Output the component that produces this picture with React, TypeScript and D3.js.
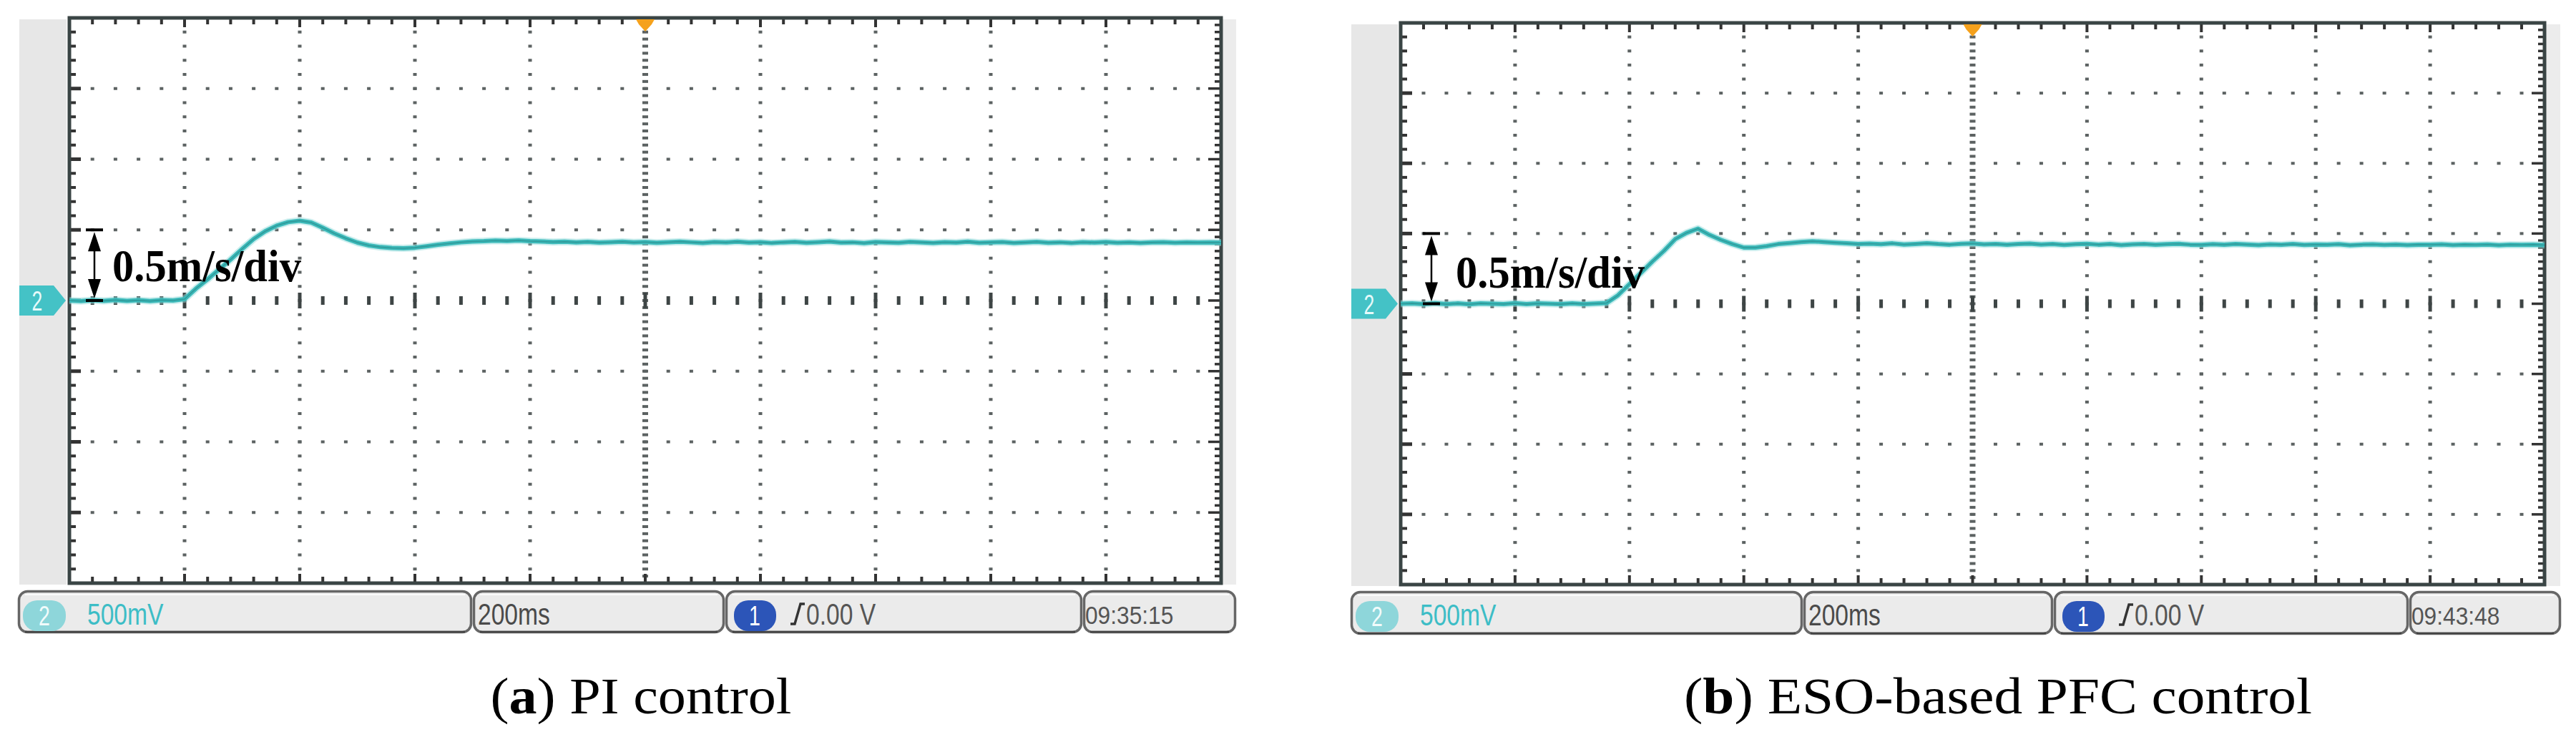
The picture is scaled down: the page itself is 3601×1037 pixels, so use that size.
import React from "react";
import * as d3 from "d3";

const W = 3601;
const H = 1037;

// ---- data (time in ms, speed in m/s; 200 ms/div, 0.5 m/s/div) ----
const timeWindowMs = [0, 2000];
const speedWindow = [-2, 2];
const sampleStepMs = 20;

const piSpeed = [
  0.0, -0.004, 0.003, -0.002, 0.004, -0.003, 0.002, -0.004, 0.003, 0.0,
  0.01, 0.085, 0.15, 0.22, 0.29, 0.365, 0.435, 0.49, 0.53, 0.555,
  0.565, 0.552, 0.515, 0.475, 0.44, 0.41, 0.39, 0.378, 0.372, 0.37,
  0.374, 0.384, 0.395, 0.404, 0.412, 0.418, 0.42, 0.424, 0.421, 0.425,
  0.42,
  0.418, 0.414, 0.416, 0.412, 0.415, 0.41, 0.413, 0.416, 0.411, 0.414,
  0.409, 0.413, 0.417, 0.412, 0.408, 0.414, 0.411, 0.416, 0.41, 0.413,
  0.407, 0.412, 0.415, 0.409, 0.413, 0.418, 0.41, 0.412, 0.406, 0.414,
  0.411, 0.409, 0.415, 0.412, 0.408, 0.413, 0.41, 0.416, 0.409, 0.412,
  0.414, 0.408, 0.411, 0.415, 0.409, 0.412, 0.407, 0.413, 0.41, 0.414,
  0.409, 0.412, 0.408, 0.411, 0.413, 0.409, 0.412, 0.41, 0.411, 0.41,
];

const esoSpeed = [
  0.0, 0.003, -0.002, 0.004, -0.003, 0.002, -0.004, 0.003, 0.0, -0.002,
  0.004, -0.003, 0.002, 0.0, -0.003, 0.003, -0.002, 0.001,
  0.005, 0.06, 0.14, 0.22, 0.3, 0.375, 0.46, 0.505, 0.535, 0.49,
  0.455, 0.425, 0.4, 0.4, 0.41, 0.425, 0.432, 0.44, 0.445, 0.44,
  0.435, 0.43, 0.425,
  0.428, 0.424, 0.43, 0.422, 0.426, 0.431, 0.425, 0.421, 0.427, 0.429,
  0.423, 0.426, 0.42, 0.425, 0.428, 0.422, 0.426, 0.419, 0.424, 0.427,
  0.421, 0.425, 0.418, 0.423, 0.426, 0.42, 0.424, 0.427, 0.421, 0.419,
  0.424, 0.42, 0.426, 0.422, 0.418, 0.423, 0.421, 0.425, 0.419, 0.422,
  0.42, 0.424, 0.417, 0.421, 0.423, 0.419, 0.422, 0.418, 0.421, 0.42,
  0.423, 0.418, 0.421, 0.419, 0.422, 0.417, 0.42, 0.419, 0.421, 0.418,
];

const channelLabel = "2";
const triggerChannelLabel = "1";
const voltsPerDiv = "500mV";
const timePerDiv = "200ms";
const triggerLevel = "0.00 V";
const timestamps = ["09:35:15", "09:43:48"];
const captionLetters = ["a", "b"];
const captionTexts = [" PI control", " ESO-based PFC control"];
const scaleNote = "0.5m/s/div";
const scaleNoteSpan = [0, 0.5];

// ---- layout ----
const layouts = [
  {
    left: 97, right: 1707, top: 25, bottom: 815, stripL: 27, stripR: 1728,
    bar: [25, 660, 1013, 1513, 1728], barTop: 825, barBottom: 885,
    arrowDx: 35, noteDx: 60, noteDy: -27, capX: 896, capW: 421,
  },
  {
    left: 1958, right: 3557, top: 32, bottom: 817, stripL: 1889, stripR: 3579,
    bar: [1888, 2520, 2870, 3367, 3580], barTop: 826, barBottom: 887,
    arrowDx: 43, noteDx: 77, noteDy: -23, capX: 2793, capW: 878,
  },
];

const TEAL = "#3dbaba";
const GRID = "#5c6262";

function StatusBox({ x0, x1, y0, y1 }) {
  return (
    <g>
      <rect x={x0 + 1.5} y={y0 + 1.5} width={x1 - x0 - 3} height={y1 - y0 - 3} rx={12} fill="#ebebeb" stroke="#666" strokeWidth={3.5} />
      <line x1={x0 + 10} x2={x1 - 10} y1={y0 + 6} y2={y0 + 6} stroke="#fafafa" strokeWidth={2} />
      <line x1={x0 + 10} x2={x1 - 10} y1={y1 - 2} y2={y1 - 2} stroke="#444" strokeWidth={2.5} />
    </g>
  );
}

function NarrowText({ x, y, text, fill, size, sx = 0.8, anchor = "start", weight = "normal" }) {
  return (
    <text
      transform={`translate(${x},${y}) scale(${sx},1)`}
      fontFamily="'Liberation Sans', Arial, sans-serif"
      fontSize={size}
      fontWeight={weight}
      fill={fill}
      textAnchor={anchor}
    >
      {text}
    </text>
  );
}

function Panel({ L, speed, timestamp, letter, caption }) {
  const x = d3.scaleLinear().domain(timeWindowMs).range([L.left, L.right]);
  const y = d3.scaleLinear().domain(speedWindow).range([L.bottom, L.top]);
  const times = speed.map((_, i) => i * sampleStepMs);

  const majorX = d3.range(timeWindowMs[0], timeWindowMs[1] + 1, 200);
  const minorX = d3.range(timeWindowMs[0], timeWindowMs[1] + 1, 40);
  const fineX = d3.range(timeWindowMs[0], timeWindowMs[1] + 1, 20);
  const majorY = d3.range(-2, 2.0001, 0.5).map((v) => +v.toFixed(2));
  const minorY = d3.range(-2, 2.0001, 0.1).map((v) => +v.toFixed(2));
  const fineY = d3.range(-2, 2.0001, 0.05).map((v) => +v.toFixed(2));
  const isMajorY = (v) => Math.abs(v * 2 - Math.round(v * 2)) < 1e-6;
  const isMajorX = (t) => t % 200 === 0;

  const line = d3
    .line()
    .x((d) => x(d[0]))
    .y((d) => y(d[1]))
    .curve(d3.curveLinear);
  const pts = times.map((t, i) => [t, speed[i]]);

  const dots = [];
  // vertical grid lines (dots every 1/5 div)
  majorX.slice(1, -1).forEach((t) => {
    const center = t === 1000;
    const ys = center ? fineY : minorY;
    ys.slice(1, -1).forEach((v) => {
      const w = center ? 8 : 5;
      const h = 4;
      dots.push(<rect key={`v${t}_${v}`} x={x(t) - w / 2} y={y(v) - h / 2} width={w} height={h} fill={GRID} />);
    });
  });
  // horizontal grid lines
  majorY.slice(1, -1).forEach((v) => {
    const center = v === 0;
    minorX.slice(1, -1).forEach((t) => {
      if (center) {
        const hh = isMajorX(t) ? 22 : 12;
        dots.push(<rect key={`h${v}_${t}`} x={x(t) - 2.5} y={y(v) - hh / 2} width={5} height={hh} fill="#3e4545" />);
      } else {
        dots.push(<rect key={`h${v}_${t}`} x={x(t) - 2.5} y={y(v) - 2} width={5} height={4} fill={GRID} />);
      }
    });
  });

  const ticks = [];
  minorX.slice(1, -1).forEach((t) => {
    const len = isMajorX(t) ? 13 : 9;
    ticks.push(<line key={`tt${t}`} x1={x(t)} x2={x(t)} y1={L.top} y2={L.top + len} stroke="#333" strokeWidth={4} />);
    ticks.push(<line key={`tb${t}`} x1={x(t)} x2={x(t)} y1={L.bottom} y2={L.bottom - len} stroke="#333" strokeWidth={4} />);
  });
  minorY.slice(1, -1).forEach((v) => {
    const len = isMajorY(v) ? 16 : 9;
    ticks.push(<line key={`tl${v}`} x1={L.left} x2={L.left + len} y1={y(v)} y2={y(v)} stroke="#333" strokeWidth={isMajorY(v) ? 5 : 4} />);
  });
  fineY.slice(1, -1).forEach((v) => {
    const len = isMajorY(v) ? 18 : 9;
    ticks.push(<line key={`tr${v}`} x1={L.right} x2={L.right - len} y1={y(v)} y2={y(v)} stroke="#333" strokeWidth={3.5} />);
  });

  const y0 = y(0);
  const mx0 = L.stripL;
  const xc = x(1000);
  const ax = L.left + L.arrowDx;
  const yTop = y(scaleNoteSpan[1]);
  const yBot = y(scaleNoteSpan[0]);
  const [b0, b1, b2, b3, b4] = L.bar;
  const bt = L.barTop;
  const bb = L.barBottom;

  return (
    <g>
      {/* side strips */}
      <rect x={L.stripL} y={L.top + 2} width={L.left - L.stripL - 4} height={L.bottom - L.top} fill="#e7e7e7" />
      <rect x={L.right} y={L.top + 2} width={L.stripR - L.right} height={L.bottom - L.top} fill="#ececec" />
      <rect x={L.left} y={L.top} width={L.right - L.left} height={L.bottom - L.top} fill="#fff" />
      {dots}
      {ticks}
      <rect x={L.left} y={L.top} width={L.right - L.left} height={L.bottom - L.top} fill="none" stroke="#3a4545" strokeWidth={5} />

      {/* trace */}
      <path d={line(pts)} fill="none" stroke="#9adede" strokeWidth={10} strokeLinejoin="round" opacity={0.5} />
      <path d={line(pts)} fill="none" stroke={TEAL} strokeWidth={6} strokeLinejoin="round" />
      <path d={line(pts)} fill="none" stroke="#257f80" strokeWidth={1.6} strokeLinejoin="round" opacity={0.55} />

      {/* trigger marker */}
      <polygon
        points={`${xc - 13},${L.top + 2} ${xc + 13},${L.top + 2} ${xc + 9},${L.top + 9} ${xc},${L.top + 19} ${xc - 9},${L.top + 9}`}
        fill="#f5a11c"
      />

      {/* channel marker */}
      <polygon
        points={`${mx0},${y0 - 21} ${mx0 + 48},${y0 - 21} ${mx0 + 65},${y0} ${mx0 + 48},${y0 + 21} ${mx0},${y0 + 21}`}
        fill="#44c2c6"
      />
      <NarrowText x={mx0 + 25} y={y0 + 14} text={channelLabel} fill="#e6fafa" size={38} sx={0.7} anchor="middle" />

      {/* scale annotation */}
      <g stroke="#000" fill="#000">
        <line x1={ax - 12} x2={ax + 12} y1={yTop} y2={yTop} strokeWidth={4} />
        <line x1={ax - 12} x2={ax + 12} y1={yBot} y2={yBot} strokeWidth={4} />
        <line x1={ax} x2={ax} y1={yTop + 10} y2={yBot - 10} strokeWidth={2.5} />
        <polygon points={`${ax},${yTop + 3} ${ax - 9},${yTop + 30} ${ax + 9},${yTop + 30}`} stroke="none" />
        <polygon points={`${ax},${yBot - 3} ${ax - 9},${yBot - 30} ${ax + 9},${yBot - 30}`} stroke="none" />
      </g>
      <text
        x={L.left + L.noteDx}
        y={y0 + L.noteDy}
        fontFamily="'Liberation Serif', 'Times New Roman', serif"
        fontWeight="bold"
        fontSize={64}
        textLength={264}
        lengthAdjust="spacingAndGlyphs"
        fill="#000"
      >
        {scaleNote}
      </text>

      {/* status bar */}
      <StatusBox x0={b0} x1={b1} y0={bt} y1={bb} />
      <StatusBox x0={b1 + 1} x1={b2} y0={bt} y1={bb} />
      <StatusBox x0={b2 + 1} x1={b3} y0={bt} y1={bb} />
      <StatusBox x0={b3 + 1} x1={b4} y0={bt} y1={bb} />

      <rect x={b0 + 7} y={bt + 14} width={60} height={43} rx={20} fill="#8ed6da" />
      <NarrowText x={b0 + 37} y={bt + 49} text={channelLabel} fill="#f2fbfb" size={38} sx={0.75} anchor="middle" />
      <NarrowText x={b0 + 97} y={bt + 48} text={voltsPerDiv} fill="#3dbdc6" size={42} />

      <NarrowText x={b1 + 8} y={bt + 48} text={timePerDiv} fill="#4a4a4a" size={42} />

      <rect x={b2 + 13} y={bt + 14} width={59} height={43} rx={20} fill="#2c55b8" />
      <NarrowText x={b2 + 42} y={bt + 49} text={triggerChannelLabel} fill="#ffffff" size={38} sx={0.75} anchor="middle" />
      <polyline
        points={`${b2 + 92},${bt + 47} ${b2 + 98},${bt + 47} ${b2 + 106},${bt + 19} ${b2 + 112},${bt + 19}`}
        fill="none"
        stroke="#333"
        strokeWidth={3.5}
      />
      <NarrowText x={b2 + 114} y={bt + 48} text={triggerLevel} fill="#555" size={42} />

      <NarrowText x={b3 + 4} y={bt + 47} text={timestamp} fill="#555" size={36} sx={0.88} />

      {/* caption */}
      <text
        x={L.capX}
        y={997}
        fontFamily="'Palatino Linotype', 'Book Antiqua', Palatino, 'Liberation Serif', serif"
        fontSize={72}
        textAnchor="middle"
        textLength={L.capW}
        lengthAdjust="spacingAndGlyphs"
        fill="#000"
      >
        (<tspan fontWeight="bold">{letter}</tspan>){caption}
      </text>
    </g>
  );
}

export default function App() {
  const series = [piSpeed, esoSpeed];
  return (
    <svg
      width={W}
      height={H}
      viewBox={`0 0 ${W} ${H}`}
      style={{ position: "absolute", left: 0, top: 0, background: "#fff" }}
    >
      <rect x={0} y={0} width={W} height={H} fill="#fff" />
      {layouts.map((L, i) => (
        <Panel
          key={i}
          L={L}
          speed={series[i]}
          timestamp={timestamps[i]}
          letter={captionLetters[i]}
          caption={captionTexts[i]}
        />
      ))}
    </svg>
  );
}
